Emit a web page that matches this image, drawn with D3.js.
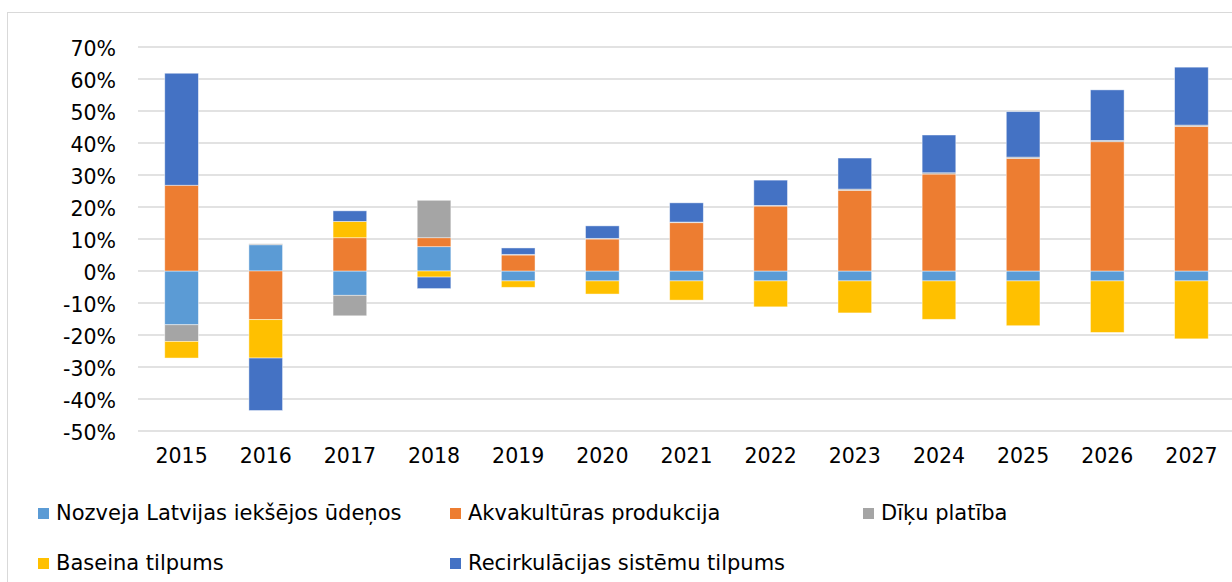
<!DOCTYPE html>
<html>
<head>
<meta charset="utf-8">
<script src="https://cdn.jsdelivr.net/npm/d3@7"></script>
<style>
  html, body { margin: 0; padding: 0; background: #fff; }
  svg { display: block; font-family: "DejaVu Sans", Verdana, sans-serif; }
</style>
</head>
<body>
<svg id="chart" width="1232" height="582"></svg>
<script>
// Annual change, % — stacked by component
const years = ["2015","2016","2017","2018","2019","2020","2021","2022","2023","2024","2025","2026","2027"];
const nozveja  = [-16.8,  8.2, -7.6,  7.6, -3.1, -3.1, -3.1, -3.1, -3.1, -3.1, -3.1, -3.1, -3.1];
const akva     = [ 26.8,-15.2, 10.4,  2.8,  5.0, 10.0, 15.1, 20.3, 25.2, 30.3, 35.2, 40.4, 45.2];
const diku     = [ -5.2,  0.3, -6.4, 11.7,  0.2,  0.2,  0.2,  0.2,  0.4,  0.4,  0.4,  0.4,  0.4];
const baseina  = [ -5.2,-12.0,  5.1, -1.9, -2.0, -4.1, -6.0, -8.1,-10.0,-12.0,-14.0,-16.1,-18.1];
const recirk   = [ 35.0,-16.4,  3.3, -3.6,  2.0,  3.9,  6.0,  7.9,  9.7, 11.8, 14.2, 15.8, 18.1];
const yTicks   = [-50, -40, -30, -20, -10, 0, 10, 20, 30, 40, 50, 60, 70];

const seriesNames = [
  "Nozveja Latvijas iekšējos ūdeņos",
  "Akvakultūras produkcija",
  "Dīķu platība",
  "Baseina tilpums",
  "Recirkulācijas sistēmu tilpums"
];
const seriesValues = [nozveja, akva, diku, baseina, recirk];
const colors = ["#5B9BD5", "#ED7D31", "#A5A5A5", "#FFC000", "#4472C4"];

const rows = years.map((y, i) => {
  const r = { year: y };
  seriesNames.forEach((n, k) => { r[n] = seriesValues[k][i]; });
  return r;
});

const stacked = d3.stack()
  .keys(seriesNames)
  .offset(d3.stackOffsetDiverging)(rows);

const svg = d3.select("#chart");

// outer chart frame
svg.append("rect")
  .attr("x", 7.5).attr("y", 12.5)
  .attr("width", 1300).attr("height", 700)
  .attr("fill", "none").attr("stroke", "#d9d9d9").attr("stroke-width", 1);

const x = d3.scaleBand()
  .domain(years)
  .range([139.5, 1233.5])
  .paddingInner(0.6)
  .paddingOuter(0.3);

const y = d3.scaleLinear()
  .domain([-50, 70])
  .range([431, 47]);

// gridlines
svg.append("g")
  .selectAll("line")
  .data(yTicks)
  .join("line")
  .attr("x1", 138).attr("x2", 1232)
  .attr("y1", d => y(d)).attr("y2", d => y(d))
  .attr("stroke", "#d9d9d9").attr("stroke-width", 1.5);

// y axis labels
const yAxis = d3.axisLeft(y)
  .tickValues(yTicks)
  .tickFormat(d => d + "%")
  .tickSize(0)
  .tickPadding(0);
const gy = svg.append("g")
  .attr("transform", "translate(116,0)")
  .call(yAxis);
gy.select(".domain").remove();
gy.selectAll("text")
  .attr("font-size", "20.5px")
  .attr("font-family", "DejaVu Sans, Verdana, sans-serif")
  .attr("fill", "#000")
  .attr("dy", "0.4em");

// bars
svg.append("g")
  .selectAll("g")
  .data(stacked)
  .join("g")
  .attr("fill", (d, i) => colors[i])
  .selectAll("rect")
  .data(d => d)
  .join("rect")
  .attr("x", d => x(d.data.year))
  .attr("width", x.bandwidth())
  .attr("y", d => y(Math.max(d[0], d[1])))
  .attr("height", d => Math.abs(y(d[0]) - y(d[1])))
  .attr("stroke", "#ffffff")
  .attr("stroke-opacity", 0.55)
  .attr("stroke-width", 0.8);

// x axis labels
const xAxis = d3.axisBottom(x).tickSize(0).tickPadding(0);
const gx = svg.append("g")
  .attr("transform", "translate(0,448)")
  .call(xAxis);
gx.select(".domain").remove();
gx.selectAll("text")
  .attr("font-size", "20.5px")
  .attr("font-family", "DejaVu Sans, Verdana, sans-serif")
  .attr("fill", "#000")
  .attr("dy", "0.71em");

// legend
const legendPos = [
  { x: 38,  y: 520 },
  { x: 450, y: 520 },
  { x: 863, y: 520 },
  { x: 38,  y: 570 },
  { x: 450, y: 570 }
];
const legend = svg.append("g")
  .selectAll("g")
  .data(seriesNames)
  .join("g")
  .attr("transform", (d, i) => `translate(${legendPos[i].x},${legendPos[i].y})`);
legend.append("rect")
  .attr("x", 0).attr("y", -12)
  .attr("width", 11).attr("height", 11)
  .attr("fill", (d, i) => colors[i]);
legend.append("text")
  .attr("x", 18).attr("y", 0)
  .attr("font-size", "21px")
  .attr("fill", "#000")
  .text(d => d);
</script>
</body>
</html>
